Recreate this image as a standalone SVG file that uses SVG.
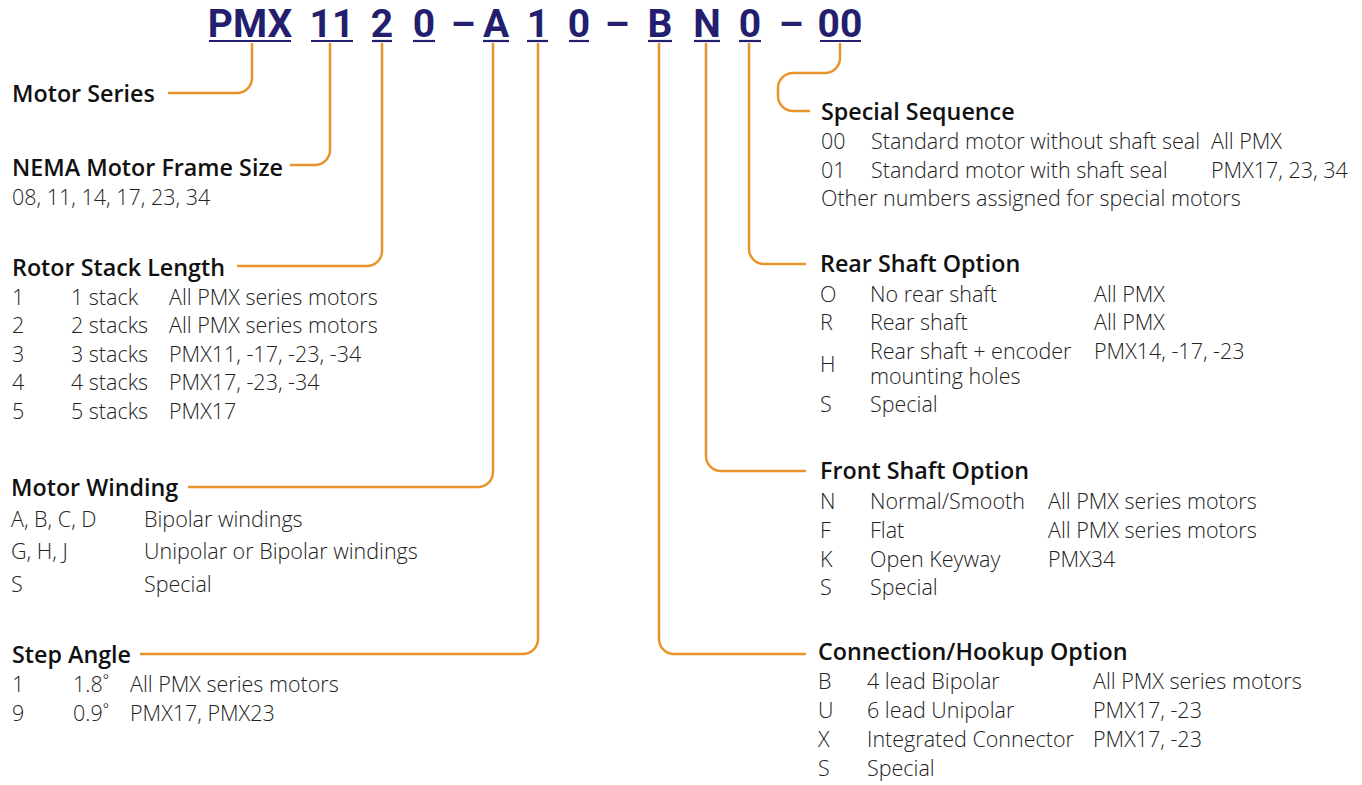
<svg xmlns="http://www.w3.org/2000/svg" width="1362" height="785" viewBox="0 0 1362 785">
<style>
.t{font-family:Roboto,"Open Sans",sans-serif;font-weight:700;font-size:39px;fill:#231f6e;text-anchor:middle}
.ul{stroke:#231f6e;stroke-width:2.2}
.h{font-family:"Open Sans","Noto Sans",sans-serif;font-weight:600;font-size:23.3px;fill:#111}
.b{font-family:"Open Sans","Noto Sans",sans-serif;font-weight:300;font-size:21.5px;fill:#222}
.c{fill:none;stroke:#e8942a;stroke-width:2.5}
</style>
<rect width="1362" height="785" fill="#fff"/>
<g id="code">
<text class="t" x="250" y="37">PMX</text>
<text class="t" x="332" y="37">11</text>
<text class="t" x="382" y="37">2</text>
<text class="t" x="424" y="37">0</text>
<text class="t" x="463" y="37">–</text>
<text class="t" x="496" y="37">A</text>
<text class="t" x="538" y="37">1</text>
<text class="t" x="579" y="37">0</text>
<text class="t" x="617" y="37">–</text>
<text class="t" x="660" y="37">B</text>
<text class="t" x="707" y="37">N</text>
<text class="t" x="750" y="37">0</text>
<text class="t" x="791" y="37">–</text>
<text class="t" x="840" y="37">00</text>
<line class="ul" x1="209" y1="41" x2="291" y2="41"/>
<line class="ul" x1="311" y1="41" x2="353" y2="41"/>
<line class="ul" x1="372" y1="41" x2="392" y2="41"/>
<line class="ul" x1="413" y1="41" x2="435" y2="41"/>
<line class="ul" x1="483" y1="41" x2="509" y2="41"/>
<line class="ul" x1="527" y1="41" x2="548" y2="41"/>
<line class="ul" x1="569" y1="41" x2="589" y2="41"/>
<line class="ul" x1="648" y1="41" x2="672" y2="41"/>
<line class="ul" x1="694" y1="41" x2="720" y2="41"/>
<line class="ul" x1="739" y1="41" x2="761" y2="41"/>
<line class="ul" x1="820" y1="41" x2="861" y2="41"/>
</g>
<g id="connectors">
<path class="c" d="M252,43 V78 A15,15 0 0 1 237,93 H168"/>
<path class="c" d="M330,43 V150 A15,15 0 0 1 315,165 H290"/>
<path class="c" d="M382,43 V251 A15,15 0 0 1 367,266 H237"/>
<path class="c" d="M493,43 V472 A15,15 0 0 1 478,487 H188"/>
<path class="c" d="M538,43 V639 A15,15 0 0 1 523,654 H140"/>
<path class="c" d="M659,43 V639 A15,15 0 0 0 674,654 H806"/>
<path class="c" d="M706,43 V456 A15,15 0 0 0 721,471 H806"/>
<path class="c" d="M749,43 V249 A15,15 0 0 0 764,264 H806"/>
<path class="c" d="M840,43 V58 A15,15 0 0 1 825,73 H793 A15,15 0 0 0 778,88 V96 A15,15 0 0 0 793,111 H810"/>
</g>
<g id="motor-series">
<text class="h" x="12" y="102">Motor Series</text>
</g>
<g id="frame-size">
<text class="h" x="12" y="176">NEMA Motor Frame Size</text>
<text class="b" x="12" y="205">08, 11, 14, 17, 23, 34</text>
</g>
<g id="stack-length">
<text class="h" x="12" y="276">Rotor Stack Length</text>
<text class="b" y="305"><tspan x="12">1</tspan><tspan x="71">1 stack</tspan><tspan x="169">All PMX series motors</tspan></text>
<text class="b" y="333"><tspan x="12">2</tspan><tspan x="71">2 stacks</tspan><tspan x="169">All PMX series motors</tspan></text>
<text class="b" y="362"><tspan x="12">3</tspan><tspan x="71">3 stacks</tspan><tspan x="169">PMX11, -17, -23, -34</tspan></text>
<text class="b" y="390"><tspan x="12">4</tspan><tspan x="71">4 stacks</tspan><tspan x="169">PMX17, -23, -34</tspan></text>
<text class="b" y="419"><tspan x="12">5</tspan><tspan x="71">5 stacks</tspan><tspan x="169">PMX17</tspan></text>
</g>
<g id="winding">
<text class="h" x="11" y="496">Motor Winding</text>
<text class="b" y="527"><tspan x="11">A, B, C, D</tspan><tspan x="144">Bipolar windings</tspan></text>
<text class="b" y="559"><tspan x="11">G, H, J</tspan><tspan x="144">Unipolar or Bipolar windings</tspan></text>
<text class="b" y="592"><tspan x="11">S</tspan><tspan x="144">Special</tspan></text>
</g>
<g id="step-angle">
<text class="h" x="12" y="663">Step Angle</text>
<text class="b" y="692"><tspan x="12">1</tspan><tspan x="73">1.8˚</tspan><tspan x="130">All PMX series motors</tspan></text>
<text class="b" y="721"><tspan x="12">9</tspan><tspan x="73">0.9˚</tspan><tspan x="130">PMX17, PMX23</tspan></text>
</g>
<g id="special-sequence">
<text class="h" x="821" y="120">Special Sequence</text>
<text class="b" y="149"><tspan x="821">00</tspan><tspan x="871">Standard motor without shaft seal</tspan><tspan x="1211">All PMX</tspan></text>
<text class="b" y="178"><tspan x="821">01</tspan><tspan x="871">Standard motor with shaft seal</tspan><tspan x="1211">PMX17, 23, 34</tspan></text>
<text class="b" x="821" y="206">Other numbers assigned for special motors</text>
</g>
<g id="rear-shaft">
<text class="h" x="820" y="272">Rear Shaft Option</text>
<text class="b" y="302"><tspan x="820">O</tspan><tspan x="870">No rear shaft</tspan><tspan x="1094">All PMX</tspan></text>
<text class="b" y="330"><tspan x="820">R</tspan><tspan x="870">Rear shaft</tspan><tspan x="1094">All PMX</tspan></text>
<text class="b" y="359"><tspan x="870">Rear shaft + encoder</tspan><tspan x="1094">PMX14, -17, -23</tspan></text>
<text class="b" x="820" y="372">H</text>
<text class="b" x="870" y="384">mounting holes</text>
<text class="b" y="412"><tspan x="820">S</tspan><tspan x="870">Special</tspan></text>
</g>
<g id="front-shaft">
<text class="h" x="820" y="479">Front Shaft Option</text>
<text class="b" y="509"><tspan x="820">N</tspan><tspan x="870">Normal/Smooth</tspan><tspan x="1048">All PMX series motors</tspan></text>
<text class="b" y="538"><tspan x="820">F</tspan><tspan x="870">Flat</tspan><tspan x="1048">All PMX series motors</tspan></text>
<text class="b" y="567"><tspan x="820">K</tspan><tspan x="870">Open Keyway</tspan><tspan x="1048">PMX34</tspan></text>
<text class="b" y="595"><tspan x="820">S</tspan><tspan x="870">Special</tspan></text>
</g>
<g id="connection">
<text class="h" x="818" y="660">Connection/Hookup Option</text>
<text class="b" y="689"><tspan x="818">B</tspan><tspan x="867">4 lead Bipolar</tspan><tspan x="1093">All PMX series motors</tspan></text>
<text class="b" y="718"><tspan x="818">U</tspan><tspan x="867">6 lead Unipolar</tspan><tspan x="1093">PMX17, -23</tspan></text>
<text class="b" y="747"><tspan x="818">X</tspan><tspan x="867">Integrated Connector</tspan><tspan x="1093">PMX17, -23</tspan></text>
<text class="b" y="776"><tspan x="818">S</tspan><tspan x="867">Special</tspan></text>
</g>
</svg>
